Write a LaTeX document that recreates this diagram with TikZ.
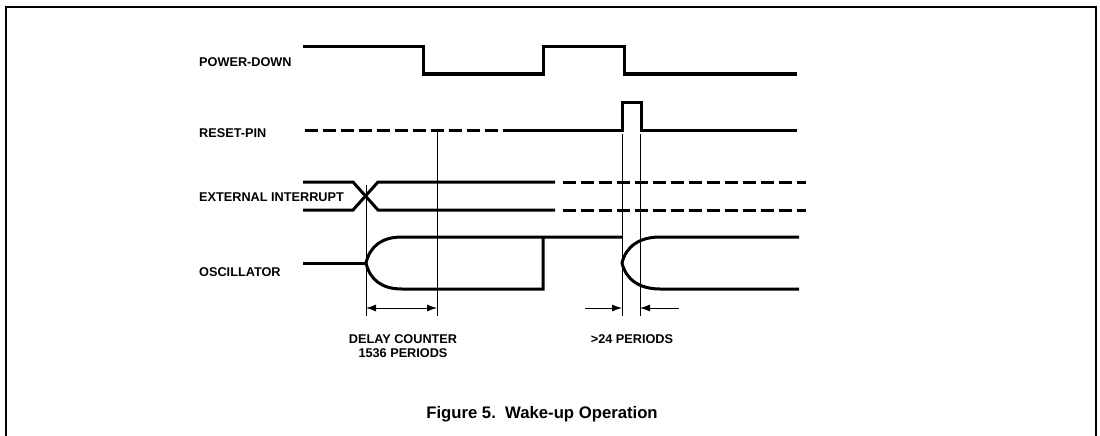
\documentclass[tikz,border=0pt]{standalone}
\usepackage{fontspec}
\setmainfont{Liberation Sans}
\usetikzlibrary{arrows.meta}
\begin{document}
\begin{tikzpicture}[x=1pt,y=-1pt,
  wave/.style={line width=3pt,line join=miter},
  dwave/.style={wave,dash pattern=on 13pt off 5pt},
  thinline/.style={line width=0.9pt},
  dim/.style={line width=0.9pt,-{Latex[length=10pt,width=7pt]}},
  lab/.style={font=\bfseries\fontsize{12.7}{14.5}\selectfont,inner sep=0pt,anchor=west},
  figcap/.style={font=\bfseries\fontsize{16.7}{19}\selectfont,inner sep=0pt}]
\useasboundingbox (0,0) rectangle (1100,436);
\fill[white] (0,0) rectangle (1100,436);
% frame
\draw[line width=1.4pt] (6,436) -- (6,7) -- (1096,7) -- (1096,436);
% labels
\node[lab] (pd) at (199,62) {POWER-DOWN};
\node[lab] (rp) at (199,133) {RESET-PIN};
\node[lab] (ei) at (199,197) {EXTERNAL INTERRUPT};
\node[lab] (osc) at (199,272) {OSCILLATOR};
% POWER-DOWN
\draw[wave] (303,47) -- (423,47) -- (423,74) -- (543,74) -- (543,47) -- (624,47) -- (624,74) -- (797,74);
% RESET-PIN
\draw[dwave] (305,130) -- (513,130);
\draw[wave] (513,130) -- (622,130) -- (622,102) -- (641,102) -- (641,130) -- (797,130);
% EXTERNAL INTERRUPT
\draw[wave] (303,182) -- (353,182) -- (378,210) -- (555,210);
\draw[wave] (303,210) -- (353,210) -- (378,182) -- (555,182);
\draw[dwave] (563,182) -- (806,182);
\draw[dwave] (563,210) -- (806,210);
% OSCILLATOR
\draw[wave] (303,263) -- (366,263);
\draw[wave] (366,263) .. controls (370,246) and (382,237) .. (402,237) -- (622,237);
\draw[wave] (366,263) .. controls (370,280) and (382,289) .. (402,289) -- (543,289) -- (543,237);
\draw[wave] (799,237) -- (660,237) .. controls (640,237) and (626,246) .. (622,263)
  .. controls (626,280) and (640,289) .. (660,289) -- (799,289);
% timing lines
\draw[thinline] (366,185) -- (366,316);
\draw[thinline] (437,130) -- (437,316);
\draw[thinline] (622,134) -- (622,316);
\draw[thinline] (640,134) -- (640,316);
% dimension arrows
\coordinate (d1) at (366,308);
\coordinate (d2) at (437,308);
\draw[dim,{Latex[length=10pt,width=7pt]}-{Latex[length=10pt,width=7pt]}] (d1) -- (d2);
\coordinate (a1) at (585,308);
\coordinate (a2) at (622,308);
\coordinate (b1) at (679,308);
\coordinate (b2) at (640,308);
\draw[dim] (a1) -- (a2);
\draw[dim] (b1) -- (b2);
% texts
\node[lab,anchor=center,align=center] (dc) at (403,346) {DELAY COUNTER\\1536 PERIODS};
\node[lab,anchor=center] (p24) at (632,339) {>24 PERIODS};
\node[figcap] (fig) at (542,414) {Figure 5.\ \ Wake-up Operation};
\end{tikzpicture}
\end{document}
